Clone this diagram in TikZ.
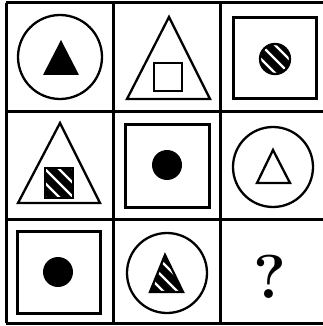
\documentclass[tikz,border=0pt]{standalone}
\usetikzlibrary{calc}
\tikzset{grid line/.style={line width=3},
  shape line/.style={line width=2.3},
  frame line/.style={line width=3}}
% black shape with white stripes, outlined again
\newcommand{\hatchshape}[3]{%
  \fill #1;
  \begin{scope}
    \clip #1;
    \foreach \d in {-14,-7,...,14}
      \draw[white,line width=2.2] (#2+\d-30,#3-\d-30) -- (#2+\d+30,#3-\d+30);
  \end{scope}
  \draw[shape line] #1;}

\begin{document}
\begin{tikzpicture}[x=1pt,y=-1pt]
  \useasboundingbox (0,0) rectangle (323,326);
  % grid
  \foreach \y in {3,111,219,323}
    \draw[grid line] (6,\y) -- (323,\y);
  \foreach \x in {6,113,220}
    \draw[grid line] (\x,3) -- (\x,323);
  % row 1
  \draw[shape line] (60,57) circle (42);
  \fill (61,40) -- (79,75) -- (43,75) -- cycle;
  \draw[shape line] (169,17) -- (210,99) -- (127,99) -- cycle;
  \draw[shape line] (154,63) rectangle (182,91);
  \draw[frame line] (233,18) rectangle (316,99);
  \hatchshape{(275,59) circle (15)}{275}{59}
  % row 2
  \draw[shape line] (60,123) -- (100,203) -- (18,203) -- cycle;
  \hatchshape{(45,168) rectangle (73,198)}{59}{183}
  \draw[frame line] (125,124) rectangle (209,207);
  \fill (167,165) circle (15);
  \draw[shape line] (273,167) circle (40);
  \draw[shape line] (273,150) -- (290,183) -- (257,183) -- cycle;
  % row 3
  \draw[frame line] (17,231) rectangle (100,313);
  \fill (58,272) circle (15);
  \draw[shape line] (167,273) circle (40);
  \hatchshape{(165,255) -- (183,292) -- (150,292) -- cycle}{166}{280}
  \node (ask) at (270,277) {\fontsize{62}{62}\selectfont\bfseries ?};
\end{tikzpicture}
\end{document}
